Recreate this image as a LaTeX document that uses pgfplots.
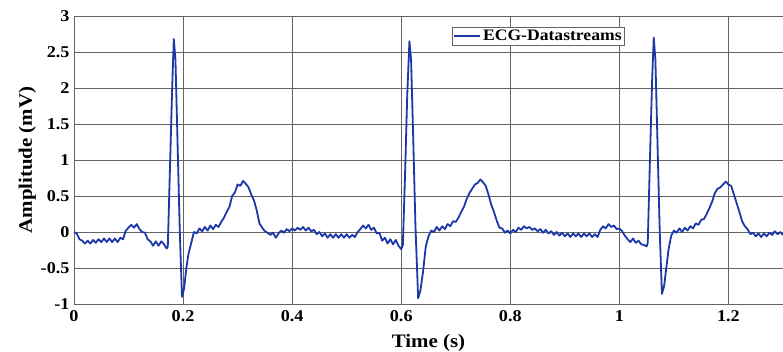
\documentclass[border=0pt]{standalone}
\usepackage{fontspec}
\setmainfont{Liberation Serif}[FakeStretch=1.1]
\usepackage{pgfplots}
\pgfplotsset{compat=1.18}
\definecolor{ecgblue}{RGB}{28,56,168}
\definecolor{gridgray}{RGB}{100,100,100}
\begin{document}
\begin{tikzpicture}
\useasboundingbox (-74pt,-47pt) rectangle (709pt,304pt);
\begin{axis}[
  scale only axis,
  width=709pt, height=288pt,
  xmin=0, xmax=1.3, ymin=-1, ymax=3,
  xtick={0,0.2,0.4,0.6,0.8,1,1.2},
  xticklabels={0,0.2,0.4,0.6,0.8,1,1.2},
  ytick={-1,-0.5,0,0.5,1,1.5,2,2.5,3},
  yticklabels={-1,-0.5,0,0.5,1,1.5,2,2.5,3},
  /pgf/number format/assume math mode=true,
  major tick length=0pt,
  grid=major,
  major grid style={gridgray, line width=0.8pt},
  axis line style={gridgray, line width=0.8pt},
  ticklabel style={font=\fontsize{16.5}{18}\selectfont\bfseries},
  xticklabel style={yshift=-3pt},
  yticklabel style={xshift=-1pt},
  xlabel={Time (s)},
  ylabel={Amplitude (mV)},
  label style={font=\fontsize{19}{21}\selectfont\bfseries},
  xlabel style={yshift=-6pt},
  ylabel style={yshift=-2pt},
  legend style={at={(0.533,0.962)}, anchor=north west, draw=gridgray, line width=0.8pt,
    font=\fontsize{16}{17}\selectfont\bfseries, inner sep=1pt, row sep=0pt},
  legend cell align=left,
  legend image code/.code={\draw[#1] (0pt,0pt) -- (26pt,0pt);},
]
\addplot[ecgblue, line width=1.8pt, line join=round] coordinates {
(0.000,0.00)(0.005,-0.02)(0.010,-0.10)(0.015,-0.12)(0.020,-0.16)(0.025,-0.12)(0.030,-0.16)(0.035,-0.11)(0.040,-0.15)(0.045,-0.10)
(0.050,-0.14)(0.055,-0.09)(0.060,-0.14)(0.065,-0.09)(0.070,-0.14)(0.075,-0.09)(0.080,-0.14)(0.085,-0.08)(0.090,-0.10)(0.095,0.02)
(0.100,0.06)(0.105,0.10)(0.110,0.06)(0.115,0.11)(0.120,0.04)(0.125,0.00)(0.130,-0.01)(0.135,-0.10)(0.140,-0.13)(0.145,-0.19)
(0.150,-0.13)(0.155,-0.19)(0.160,-0.13)(0.165,-0.17)(0.170,-0.23)(0.172,-0.20)(0.176,0.9)(0.180,2.0)(0.183,2.68)(0.186,2.40)
(0.190,1.2)(0.194,0.0)(0.198,-0.90)(0.202,-0.78)(0.206,-0.50)(0.210,-0.30)(0.215,-0.15)(0.220,0.00)(0.225,-0.02)(0.230,0.05)
(0.235,0.01)(0.240,0.07)(0.245,0.02)(0.250,0.09)(0.255,0.04)(0.260,0.10)(0.265,0.07)(0.270,0.14)(0.275,0.20)(0.280,0.28)
(0.285,0.35)(0.290,0.50)(0.295,0.55)(0.300,0.66)(0.305,0.64)(0.310,0.71)(0.315,0.67)(0.320,0.62)(0.325,0.52)(0.330,0.44)
(0.335,0.30)(0.340,0.12)(0.345,0.06)(0.350,0.01)(0.355,-0.01)(0.360,-0.04)(0.365,-0.01)(0.370,-0.08)(0.375,-0.02)(0.380,0.02)
(0.385,-0.01)(0.390,0.04)(0.395,0.01)(0.400,0.05)(0.405,0.02)(0.410,0.06)(0.415,0.03)(0.420,0.07)(0.425,0.02)(0.430,0.06)
(0.435,0.01)(0.440,0.03)(0.445,-0.03)(0.450,0.00)(0.455,-0.06)(0.460,-0.02)(0.465,-0.08)(0.470,-0.03)(0.475,-0.08)(0.480,-0.03)
(0.485,-0.08)(0.490,-0.03)(0.495,-0.08)(0.500,-0.03)(0.505,-0.08)(0.510,-0.04)(0.515,-0.07)(0.520,0.00)(0.525,0.04)(0.530,0.09)
(0.535,0.05)(0.540,0.10)(0.545,0.03)(0.550,0.06)(0.555,-0.02)(0.560,-0.01)(0.565,-0.12)(0.570,-0.08)(0.575,-0.16)(0.580,-0.10)
(0.585,-0.17)(0.590,-0.11)(0.595,-0.19)(0.600,-0.24)(0.603,-0.18)(0.607,0.8)(0.611,1.9)(0.615,2.65)(0.618,2.40)(0.622,1.3)
(0.626,0.1)(0.631,-0.92)(0.635,-0.82)(0.640,-0.55)(0.645,-0.20)(0.650,-0.06)(0.655,0.02)(0.660,0.00)(0.665,0.07)(0.670,0.02)
(0.675,0.08)(0.680,0.04)(0.685,0.11)(0.690,0.08)(0.695,0.15)(0.700,0.14)(0.705,0.20)(0.710,0.28)(0.715,0.35)(0.720,0.46)
(0.725,0.54)(0.730,0.60)(0.735,0.66)(0.740,0.68)(0.745,0.73)(0.750,0.69)(0.755,0.64)(0.760,0.52)(0.765,0.38)(0.770,0.28)
(0.775,0.16)(0.780,0.06)(0.785,0.05)(0.790,-0.01)(0.795,0.02)(0.800,-0.02)(0.805,0.03)(0.810,0.00)(0.815,0.06)(0.820,0.03)
(0.825,0.08)(0.830,0.05)(0.835,0.07)(0.840,0.03)(0.845,0.05)(0.850,0.01)(0.855,0.04)(0.860,-0.01)(0.865,0.03)(0.870,-0.02)
(0.875,0.01)(0.880,-0.04)(0.885,0.00)(0.890,-0.05)(0.895,-0.01)(0.900,-0.06)(0.905,-0.02)(0.910,-0.07)(0.915,-0.02)(0.920,-0.06)
(0.925,-0.02)(0.930,-0.07)(0.935,-0.02)(0.940,-0.06)(0.945,-0.02)(0.950,-0.07)(0.955,-0.03)(0.960,-0.07)(0.965,0.03)(0.970,0.08)
(0.975,0.05)(0.980,0.11)(0.985,0.07)(0.990,0.09)(0.995,0.04)(1.000,0.05)(1.005,0.01)(1.010,-0.05)(1.015,-0.10)(1.020,-0.14)
(1.025,-0.09)(1.030,-0.15)(1.035,-0.12)(1.040,-0.17)(1.045,-0.18)(1.050,-0.20)(1.052,-0.15)(1.056,1.0)(1.060,2.1)(1.063,2.70)
(1.066,2.4)(1.070,1.2)(1.074,0.0)(1.078,-0.86)(1.082,-0.75)(1.086,-0.50)(1.090,-0.25)(1.095,-0.05)(1.100,0.02)(1.105,-0.01)
(1.110,0.05)(1.115,0.00)(1.120,0.06)(1.125,0.02)(1.130,0.08)(1.135,0.05)(1.140,0.12)(1.145,0.10)(1.150,0.17)(1.155,0.18)
(1.160,0.25)(1.165,0.33)(1.170,0.42)(1.175,0.54)(1.180,0.60)(1.185,0.62)(1.190,0.66)(1.195,0.70)(1.200,0.66)(1.205,0.64)
(1.210,0.52)(1.215,0.40)(1.220,0.28)(1.225,0.15)(1.230,0.08)(1.235,0.04)(1.240,-0.03)(1.245,-0.01)(1.250,-0.06)(1.255,-0.02)
(1.260,-0.07)(1.265,-0.02)(1.270,-0.06)(1.275,-0.01)(1.280,-0.04)(1.285,0.01)(1.290,-0.03)(1.295,0.00)(1.300,-0.04)
};
\addlegendentry{ECG-Datastreams}
\end{axis}
\end{tikzpicture}
\end{document}
